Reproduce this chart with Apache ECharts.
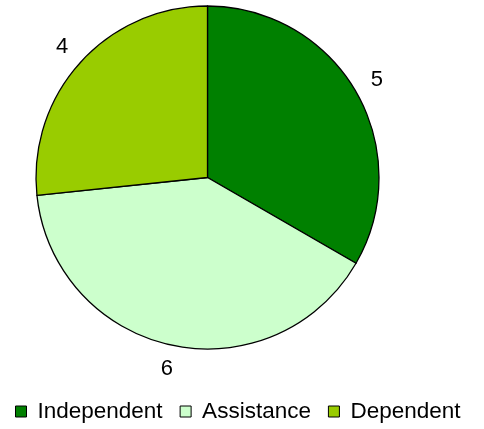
<!DOCTYPE html>
<html>
<head>
<meta charset="utf-8">
<script src="https://cdn.jsdelivr.net/npm/echarts@6/dist/echarts.min.js"></script>
<style>html,body{margin:0;padding:0;background:#fff}#c{width:484px;height:429px}</style>
</head>
<body>
<div id="c"></div>
<script>
const categories = ['Independent', 'Assistance', 'Dependent'];
const values = [5, 6, 4];
const colors = ['#008000', '#ccffcc', '#99cc00'];

const FONT = 'Liberation Sans, Arial, sans-serif';
const chart = echarts.init(document.getElementById('c'), null, {renderer: 'canvas'});
const mainData = categories.map((n, i) => ({name: n, value: values[i], itemStyle: {color: colors[i]}}));
const labelData = categories.map((n, i) => ({name: n, value: values[i]}));
chart.setOption({
  animation: false,
  textStyle: {fontFamily: FONT},
  legend: {
    data: categories,
    top: 400,
    left: 15,
    padding: 0,
    itemWidth: 11,
    itemHeight: 11,
    itemGap: 17,
    icon: 'rect',
    itemStyle: {borderColor: '#000', borderWidth: 1},
    textStyle: {fontSize: 22.5, color: '#000', fontFamily: FONT, padding: [0, 0, 0, 6]}
  },
  series: [
    {
      type: 'pie',
      center: [207.5, 177.5],
      radius: [0, 171.5],
      startAngle: 90,
      clockwise: true,
      silent: true,
      label: {show: false},
      labelLine: {show: false},
      itemStyle: {borderColor: '#000', borderWidth: 1.3},
      data: mainData
    },
    {
      type: 'pie',
      center: [207.5, 177.5],
      radius: [188, 197],
      startAngle: 90,
      clockwise: true,
      silent: true,
      itemStyle: {color: 'rgba(0,0,0,0)', borderWidth: 0},
      label: {show: true, position: 'inside', formatter: '{c}', fontSize: 22, color: '#000', fontFamily: FONT},
      labelLine: {show: false},
      data: labelData
    }
  ]
});
</script>
</body>
</html>
